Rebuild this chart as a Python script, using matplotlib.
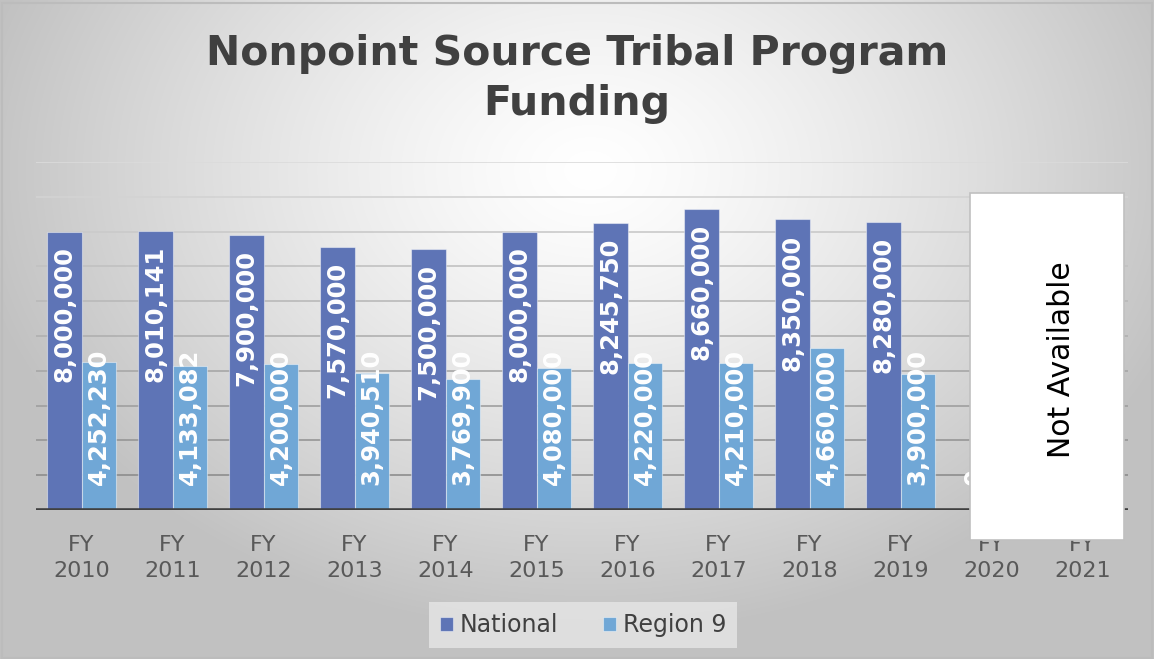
import numpy as np
import matplotlib
matplotlib.use("Agg")
import matplotlib.pyplot as plt
from matplotlib.patches import Rectangle

years = ["FY\n2010", "FY\n2011", "FY\n2012", "FY\n2013", "FY\n2014", "FY\n2015",
         "FY\n2016", "FY\n2017", "FY\n2018", "FY\n2019", "FY\n2020", "FY\n2021"]
national = [8000000, 8010141, 7900000, 7570000, 7500000, 8000000,
            8245750, 8660000, 8350000, 8280000, 0, 0]
region9 = [4252230, 4133082, 4200000, 3940510, 3769900, 4080000,
           4220000, 4210000, 4660000, 3900000, 0, 0]
series_names = ["National", "Region 9"]
colors = ["#5e74b6", "#70a7d6"]
title = "Nonpoint Source Tribal Program\nFunding"
na_text = "Not Available"

W, H = 1154, 659
fig = plt.figure(figsize=(W / 100, H / 100), dpi=100)

# background radial gradient
bg = fig.add_axes([0, 0, 1, 1], zorder=-10)
yy, xx = np.mgrid[0:H, 0:W]
cx, cy = 590, 170
r = np.sqrt(((xx - cx) / 700.0) ** 2 + ((yy - cy) / 520.0) ** 2)
v = np.clip(1.0 - 0.28 * r ** 1.3, 0.76, 1.0)
bg.imshow(np.dstack([v, v, v]), aspect="auto", extent=[0, W, H, 0])
bg.set_xlim(0, W)
bg.set_ylim(H, 0)
bg.axis("off")

left, right, top, bottom = 36, 1128, 162, 510
ax = fig.add_axes([left / W, 1 - bottom / H, (right - left) / W, (bottom - top) / H])
ax.set_facecolor("none")

x = np.arange(len(years))
bw = 0.375
ticks = np.arange(0, 10000001, 1000000)
for i, t in enumerate(ticks[1:]):
    frac = t / ticks[-1]
    g = 0.52 + 0.34 * frac
    ax.axhline(t, color=(g, g, g), lw=1.2, zorder=0)

b1 = ax.bar(x - bw / 2, national, bw, color=colors[0], edgecolor=(1, 1, 1, 0.45),
            lw=0.8, label=series_names[0], zorder=2)
b2 = ax.bar(x + bw / 2, region9, bw, color=colors[1], edgecolor=(1, 1, 1, 0.45),
            lw=0.8, label=series_names[1], zorder=2)

lfs = 17.5
for xi, v1 in zip(x, national):
    if v1 > 0:
        ax.annotate(f"{v1:,}", xy=(xi - bw / 2, v1), xytext=(0, -15), textcoords="offset pixels",
                    rotation=90, ha="center", va="top", color="white", fontsize=lfs,
                    fontweight="bold", zorder=3)
    else:
        ax.annotate(f"{v1:,}", xy=(xi - bw / 2, 0), xytext=(0, 25), textcoords="offset pixels",
                    rotation=90, ha="center", va="bottom", color="white", fontsize=lfs,
                    fontweight="bold", zorder=3)
for xi, v2 in zip(x, region9):
    ax.annotate(f"{v2:,}", xy=(xi + bw / 2, 0), xytext=(0, 25), textcoords="offset pixels",
                rotation=90, ha="center", va="bottom", color="white", fontsize=lfs,
                fontweight="bold", zorder=3)

ax.axhline(0, color="#404040", lw=2.6, zorder=4)
ax.set_xlim(-0.5, len(years) - 0.5)
ax.set_ylim(0, ticks[-1])
ax.set_yticks([])
ax.set_xticks(x)
ax.set_xticklabels(years, fontsize=16, color="#595959", linespacing=1.35)
ax.tick_params(axis="x", length=0, pad=18)
for s in ax.spines.values():
    s.set_visible(False)

fig.text(0.5, 1 - 79 / H, title, ha="center", va="center", fontsize=29.5,
         fontweight="bold", color="#404040", linespacing=1.3)

leg = fig.legend(handles=[b1, b2], labels=series_names, loc="center",
                 bbox_to_anchor=(583 / W, 1 - 625 / H), ncol=2, frameon=True,
                 fontsize=17, handlelength=0.55, handleheight=0.55, handletextpad=0.3,
                 columnspacing=1.9, borderpad=0.45, borderaxespad=0, fancybox=False)
leg.get_frame().set_facecolor("#e6e6e6")
leg.get_frame().set_edgecolor("none")
for t in leg.get_texts():
    t.set_color("#404040")

# Not Available box
bx0, by0, bx1, by1 = 970, 193, 1124, 540
fig.patches.append(Rectangle((bx0 / W, 1 - by1 / H), (bx1 - bx0) / W, (by1 - by0) / H,
                             transform=fig.transFigure, facecolor="white",
                             edgecolor="#c0c0c0", lw=1.2, zorder=20))
fig.text(1062 / W, 1 - 360 / H, na_text, rotation=90, ha="center", va="center",
         fontsize=21.5, color="black", zorder=21)

# outer border
fig.patches.append(Rectangle((0.002, 0.002), 0.996, 0.994, transform=fig.transFigure,
                             facecolor="none", edgecolor="#bcbcbc", lw=1.5, zorder=30))

fig.savefig("out.png", dpi=100)
